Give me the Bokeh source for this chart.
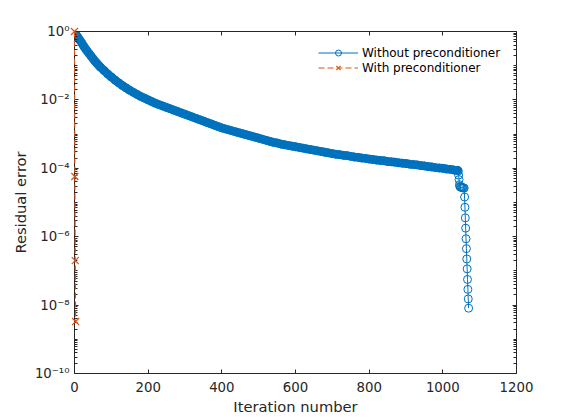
from bokeh.plotting import figure
from bokeh.models import (Range1d, FixedTicker, LinearAxis, LogAxis, Legend,
                          LegendItem, ColumnDataSource, CustomJSTickFormatter)
from bokeh.embed import file_html
from bokeh.resources import INLINE

# ---- data (residual error on a log10 scale) ----
iter_without = [0, 5, 10, 15, 20, 25, 30, 35, 40, 45, 50, 55, 60, 65, 70,
                80, 90, 100, 110, 120, 130, 140, 150, 160, 170, 180, 190, 200,
                210, 220, 230, 240, 250, 260, 270, 280, 290, 300, 310, 320, 330,
                340, 350, 360, 370, 380, 390, 400, 410, 420, 430, 440, 450, 460,
                470, 480, 490, 500, 510, 520, 530, 540, 550, 560, 570, 580, 590,
                600, 610, 620, 630, 640, 650, 660, 670, 680, 690, 700, 710, 720,
                730, 740, 750, 760, 770, 780, 790, 800, 810, 820, 830, 840, 850,
                860, 870, 880, 890, 900, 910, 920, 930, 940, 950, 960, 970, 980,
                990, 1000, 1010, 1020, 1030, 1040,
                1042, 1043, 1044, 1045, 1046, 1048, 1050, 1052, 1054, 1056, 1058,
                1059, 1060, 1061, 1062, 1063, 1064, 1065, 1066, 1067, 1068, 1069, 1070]
log_res_without = [-0.03, -0.10, -0.18, -0.26, -0.34, -0.43, -0.51, -0.58, -0.65, -0.72,
                   -0.79, -0.86, -0.92, -0.98, -1.04,
                   -1.14, -1.24, -1.33, -1.42, -1.50, -1.58, -1.65, -1.72, -1.78, -1.84,
                   -1.90, -1.95, -2.00, -2.05, -2.10, -2.14, -2.18, -2.22, -2.26, -2.30,
                   -2.34, -2.38, -2.42, -2.46, -2.50, -2.54, -2.58, -2.62, -2.66, -2.70,
                   -2.74, -2.78, -2.82, -2.85, -2.88, -2.91, -2.94, -2.97, -3.00, -3.03,
                   -3.06, -3.09, -3.12, -3.15, -3.18, -3.21, -3.24, -3.26, -3.29, -3.31,
                   -3.33, -3.35, -3.37, -3.39, -3.41, -3.43, -3.45, -3.47, -3.49, -3.51,
                   -3.53, -3.55, -3.57, -3.59, -3.60, -3.62, -3.63, -3.65, -3.67, -3.68,
                   -3.70, -3.71, -3.73, -3.74, -3.76, -3.77, -3.78, -3.80, -3.81, -3.82,
                   -3.84, -3.85, -3.86, -3.88, -3.89, -3.90, -3.92, -3.93, -3.95, -3.96,
                   -3.98, -3.99, -4.00, -4.02, -4.03, -4.05, -4.06,
                   -4.08, -4.20, -4.33, -4.48, -4.53, -4.55, -4.56, -4.56, -4.57, -4.57, -4.58,
                   -4.84, -5.14, -5.45, -5.75, -6.06, -6.35, -6.65, -6.94, -7.25, -7.54,
                   -7.82, -8.09]
iter_with = [0, 1, 2, 3]
log_res_with = [0.0, -4.24, -6.70, -8.48]

x_ticks = [0, 200, 400, 600, 800, 1000, 1200]
y_ticks = [1e-10, 1e-8, 1e-6, 1e-4, 1e-2, 1e0]
series_labels = ["Without preconditioner", "With preconditioner"]
x_label = "Iteration number"
y_label = "Residual error"

res_without = [10 ** v for v in log_res_without]
res_with = [10 ** v for v in log_res_with]

BLUE = "#0072BD"
RED = "#D95319"
AX = "#262626"
FONT = "DejaVu Sans"

src_without = ColumnDataSource(dict(x=iter_without, y=res_without))
src_band = ColumnDataSource(dict(x=[x for x in iter_without if x <= 1040],
                                 y=[y for x, y in zip(iter_without, res_without) if x <= 1040]))
src_with = ColumnDataSource(dict(x=iter_with, y=res_with))

p = figure(width=570, height=420, y_axis_type="log",
           x_range=Range1d(0, 1200), y_range=Range1d(1e-10, 1),
           output_backend="svg", toolbar_location=None,
           min_border_left=74, min_border_right=54, min_border_top=31, min_border_bottom=47)
p.background_fill_color = "white"
p.border_fill_color = "white"
p.outline_line_color = None
p.xgrid.visible = False
p.ygrid.visible = False

minor_y = [k * 10.0 ** d for d in range(-10, 0) for k in range(2, 10)] + [1e-9, 1e-7, 1e-5, 1e-3, 1e-1]
y_ticker = FixedTicker(ticks=y_ticks, minor_ticks=minor_y)
x_ticker = FixedTicker(ticks=x_ticks, minor_ticks=[])

sup_fmt = CustomJSTickFormatter(code="""
const e = Math.round(Math.log10(tick));
const s = {'-':'\u207b','0':'\u2070','1':'\u00b9','2':'\u00b2','3':'\u00b3','4':'\u2074',
           '5':'\u2075','6':'\u2076','7':'\u2077','8':'\u2078','9':'\u2079'};
return '10' + String(e).split('').map(c => s[c]).join('');
""")
blank_fmt = CustomJSTickFormatter(code="return '';")

def style_axis(ax):
    ax.axis_line_color = AX
    ax.axis_line_width = 1
    ax.major_tick_line_color = AX
    ax.minor_tick_line_color = AX
    ax.major_tick_in = 4
    ax.major_tick_out = 0
    ax.minor_tick_in = 3
    ax.minor_tick_out = 0
    ax.major_label_text_font = FONT
    ax.major_label_text_font_size = "13.3px"
    ax.major_label_text_color = AX
    ax.axis_label_text_font = FONT
    ax.axis_label_text_font_size = "14.7px"
    ax.axis_label_text_font_style = "normal"
    ax.axis_label_text_color = AX

xa = p.xaxis[0]
xa.ticker = x_ticker
style_axis(xa)
xa.axis_label = x_label
xa.major_label_standoff = 8
xa.axis_label_standoff = 3

ya = p.yaxis[0]
ya.ticker = y_ticker
ya.formatter = sup_fmt
style_axis(ya)
ya.axis_label = y_label
ya.major_label_standoff = 5
ya.axis_label_standoff = 3

top = LinearAxis(ticker=FixedTicker(ticks=x_ticks, minor_ticks=[]), formatter=blank_fmt)
style_axis(top)
top.major_label_text_font_size = "1px"
top.major_label_standoff = 0
p.add_layout(top, "above")

right = LogAxis(ticker=FixedTicker(ticks=y_ticks, minor_ticks=minor_y), formatter=blank_fmt)
style_axis(right)
right.major_label_text_font_size = "1px"
right.major_label_standoff = 0
p.add_layout(right, "right")

# dense markers (one per iteration in the original) form a solid band
p.line("x", "y", source=src_band, color=BLUE, line_width=8.5,
       line_cap="round", line_join="round")
l1 = p.line("x", "y", source=src_without, color=BLUE, line_width=1)
s1 = p.scatter("x", "y", source=src_without, marker="circle", size=8,
               fill_color=None, line_color=BLUE, line_width=1)
l2 = p.line("x", "y", source=src_with, color=RED, line_width=1.2, line_dash="6 3",
            level="overlay")
s2 = p.scatter("x", "y", source=src_with, marker="x", size=10,
               line_color=RED, line_width=1.2, level="overlay")

legend = Legend(items=[LegendItem(label=series_labels[0], renderers=[l1, s1]),
                       LegendItem(label=series_labels[1], renderers=[l2, s2])],
                location=(244, 298), border_line_color=None, background_fill_alpha=0,
                label_text_font=FONT, label_text_font_size="12px", label_text_color="black",
                glyph_width=40, glyph_height=15, label_height=15, spacing=0,
                padding=0, margin=0, label_standoff=4)
p.add_layout(legend)

open("out.html", "w").write(file_html(p, INLINE))
